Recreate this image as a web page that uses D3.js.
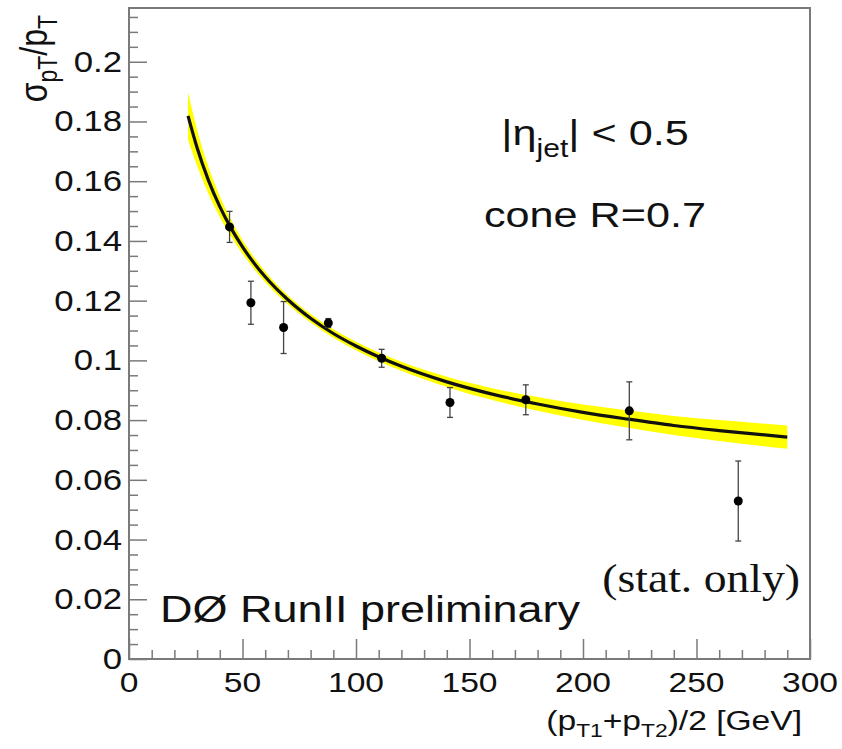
<!DOCTYPE html>
<html><head><meta charset="utf-8">
<script src="https://cdn.jsdelivr.net/npm/d3@7"></script>
<style>body{margin:0;background:#fff}</style>
</head><body><svg id="c" width="842" height="749"></svg>
<script>
// ---- data ----
const pointX   = [44.3, 53.7, 68.1, 87.8, 111.3, 141.4, 174.8, 220.4, 268.4];
const pointY   = [0.1447, 0.1193, 0.1110, 0.1125, 0.1007, 0.0859, 0.0868, 0.0831, 0.0529];
const pointErr = [0.0052, 0.0072, 0.0087, 0.0015, 0.0030, 0.0050, 0.0050, 0.0097, 0.0134];
const fitX    = [26, 30, 35, 40, 45, 50, 60, 70, 80, 90, 100, 120, 140, 160, 180, 200, 220, 240, 260, 290];
const fitY    = [0.1819, 0.1712, 0.1603, 0.1515, 0.1442, 0.1380, 0.1280, 0.1203, 0.1141, 0.1090, 0.1048, 0.0980, 0.0928, 0.0887, 0.0854, 0.0826, 0.0803, 0.0782, 0.0765, 0.0743];
const fitBand = [0.0080, 0.0060, 0.0045, 0.0035, 0.0028, 0.0023, 0.0018, 0.0015, 0.0014, 0.0014, 0.0014, 0.0015, 0.0017, 0.0020, 0.0023, 0.0026, 0.0029, 0.0032, 0.0035, 0.0039];
const xTickValues = [0, 50, 100, 150, 200, 250, 300];
const xTickLabels = ["0", "50", "100", "150", "200", "250", "300"];
const yTickValues = [0, 0.02, 0.04, 0.06, 0.08, 0.1, 0.12, 0.14, 0.16, 0.18, 0.2];
const yTickLabels = ["0", "0.02", "0.04", "0.06", "0.08", "0.1", "0.12", "0.14", "0.16", "0.18", "0.2"];

const svg = d3.select("#c");
const L = 129, R = 810, T = 8, B = 659;
const x = d3.scaleLinear().domain([0, 300]).range([L, R]);
const y = d3.scaleLinear().domain([0, 0.218]).range([B, T]);
const FONT = "'Liberation Sans', Arial, Helvetica, sans-serif";
const SX = 1.2;
const axisCol = "#7a7a7a";

// band + fit line
const fit = fitX.map((v, i) => ({x: v, y: fitY[i], e: fitBand[i]}));
svg.append("path").datum(fit)
  .attr("fill", "#ffff00")
  .attr("d", d3.area().curve(d3.curveMonotoneX)
    .x(d => x(d.x)).y0(d => y(d.y - d.e)).y1(d => y(d.y + d.e)));
svg.append("path").datum(fit)
  .attr("fill", "none").attr("stroke", "#111").attr("stroke-width", 3.2)
  .attr("d", d3.line().curve(d3.curveMonotoneX).x(d => x(d.x)).y(d => y(d.y)));

// points with error bars
const pts = pointX.map((v, i) => ({x: v, y: pointY[i], e: pointErr[i]}));
const pg = svg.append("g").selectAll("g").data(pts).join("g");
pg.append("line").attr("x1", d => x(d.x)).attr("x2", d => x(d.x))
  .attr("y1", d => y(d.y - d.e)).attr("y2", d => y(d.y + d.e))
  .attr("stroke", "#444").attr("stroke-width", 1.3);
pg.selectAll("line.cap").data(d => [d.y - d.e, d.y + d.e].map(v => ({x: d.x, v})))
  .join("line").attr("class", "cap")
  .attr("x1", d => x(d.x) - 3).attr("x2", d => x(d.x) + 3)
  .attr("y1", d => y(d.v)).attr("y2", d => y(d.v))
  .attr("stroke", "#444").attr("stroke-width", 1.3);
pg.append("circle").attr("cx", d => x(d.x)).attr("cy", d => y(d.y)).attr("r", 4.5).attr("fill", "#000");

// axes (ticks inside)
const xMinor = d3.range(0, 301, 10).filter(v => v % 50 !== 0);
const yMinor = d3.range(0, 0.2181, 0.005).filter(v => Math.abs(Math.round(v / 0.02) * 0.02 - v) > 1e-6);
function styleAxis(g) {
  g.select(".domain").remove();
  g.selectAll("line").attr("stroke", axisCol).attr("stroke-width", 1.5);
  g.selectAll("text").remove();
}
svg.append("g").attr("transform", `translate(0,${B})`)
  .call(d3.axisBottom(x).tickValues(xTickValues).tickSize(-20)).call(styleAxis);
svg.append("g").attr("transform", `translate(0,${B})`)
  .call(d3.axisBottom(x).tickValues(xMinor).tickSize(-9)).call(styleAxis);
svg.append("g").attr("transform", `translate(${L},0)`)
  .call(d3.axisLeft(y).tickValues(yTickValues).tickSize(-18)).call(styleAxis);
svg.append("g").attr("transform", `translate(${L},0)`)
  .call(d3.axisLeft(y).tickValues(yMinor).tickSize(-9)).call(styleAxis);

// frame
svg.append("rect").attr("x", L).attr("y", T).attr("width", R - L).attr("height", B - T)
  .attr("fill", "none").attr("stroke", axisCol).attr("stroke-width", 2);

function txt(px, py, s, size, anchor, family, sx) {
  return svg.append("text").attr("transform", `translate(${px},${py}) scale(${sx || SX},1)`)
    .attr("text-anchor", anchor).attr("font-family", family || FONT)
    .attr("font-size", size).attr("fill", "#111").text(s);
}
// tick labels
xTickValues.forEach((v, i) => txt(x(v), 692, xTickLabels[i], 28, "middle"));
yTickValues.forEach((v, i) => txt(L - 7, y(v) + 10, yTickLabels[i], 29, "end"));

// y title
const yt = svg.append("text").attr("transform", `translate(47,15) rotate(-90) scale(1,${SX})`)
  .attr("text-anchor", "end").attr("font-family", FONT).attr("font-size", 32).attr("fill", "#111");
yt.append("tspan").text("σ");
yt.append("tspan").attr("dy", 8).attr("font-size", 23).text("pT");
yt.append("tspan").attr("dy", -8).text("/p");
yt.append("tspan").attr("dy", 8).attr("font-size", 23).text("T");

// x title
const xt = svg.append("text").attr("transform", `translate(802,730) scale(${SX},1)`)
  .attr("text-anchor", "end").attr("font-family", FONT).attr("font-size", 28).attr("fill", "#111");
xt.append("tspan").text("(p");
xt.append("tspan").attr("dy", 7).attr("font-size", 19).text("T1");
xt.append("tspan").attr("dy", -7).text("+p");
xt.append("tspan").attr("dy", 7).attr("font-size", 19).text("T2");
xt.append("tspan").attr("dy", -7).text(")/2 [GeV]");

// annotations
const eta = svg.append("text").attr("transform", `translate(595,145) scale(${SX},1)`)
  .attr("text-anchor", "middle").attr("font-family", FONT).attr("font-size", 36).attr("fill", "#111");
eta.append("tspan").text("|η");
eta.append("tspan").attr("dy", 12).attr("font-size", 25).text("jet");
eta.append("tspan").attr("dy", -12).text("| < 0.5");
txt(595, 227, "cone R=0.7", 36, "middle");
txt(160, 622, "DØ RunII preliminary", 37.5, "start");
txt(800, 592, "(stat. only)", 39, "end", "'Liberation Serif', 'Times New Roman', serif", 1.17);
</script></body></html>
